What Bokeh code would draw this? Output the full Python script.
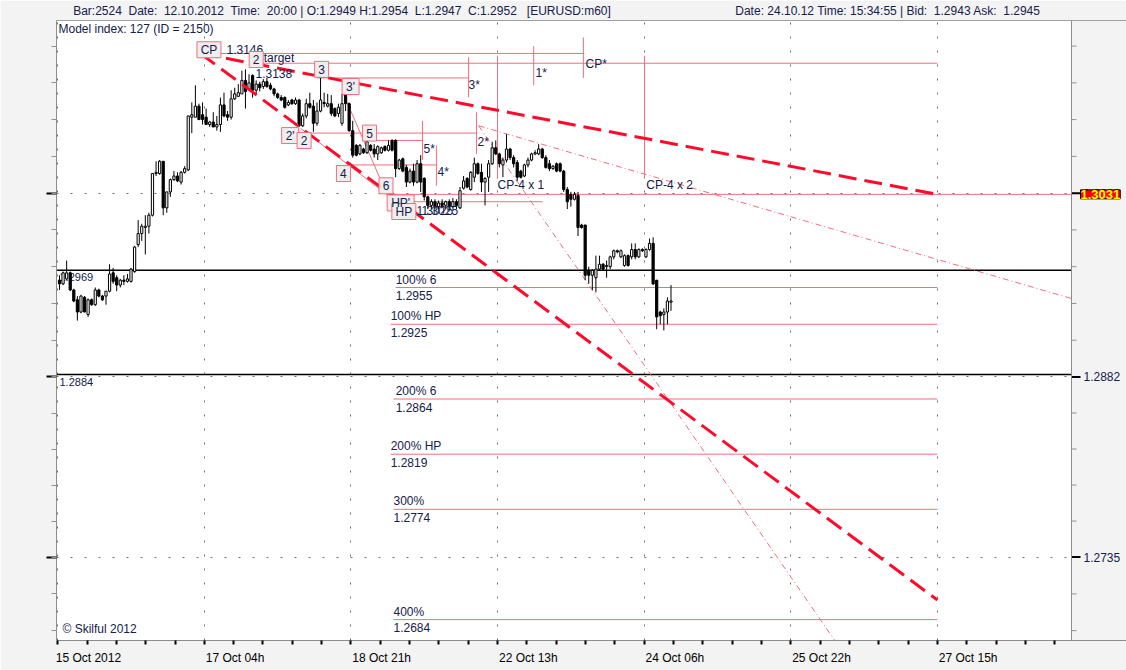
from bokeh.plotting import figure
from bokeh.models import (ColumnDataSource, Range1d, LinearAxis, FixedTicker,
                          Grid, Span, Label)
from bokeh.core.properties import value
from bokeh.embed import file_html
from bokeh.resources import INLINE

# ---------------- data: EURUSD H1 candles (one entry per hourly bar) ----------------
opens = [
    1.2961, 1.2958, 1.2962, 1.2967, 1.2953, 1.2945, 1.2935, 1.2947, 1.2933, 1.2945,
    1.2941, 1.2953, 1.2948, 1.2948, 1.2952, 1.2967, 1.2963, 1.2957, 1.2961, 1.2960,
    1.2960, 1.2968, 1.2990, 1.2999, 1.3004, 1.3005, 1.3014, 1.3048, 1.3048, 1.3058,
    1.3020, 1.3033, 1.3043, 1.3046, 1.3041, 1.3049, 1.3051, 1.3094, 1.3094, 1.3103,
    1.3096, 1.3094, 1.3088, 1.3090, 1.3086, 1.3088, 1.3104, 1.3096, 1.3094, 1.3109,
    1.3111, 1.3113, 1.3124, 1.3117, 1.3128, 1.3116, 1.3121,
    1.3119, 1.3123, 1.3120, 1.3117, 1.3113, 1.3110, 1.3110, 1.3104, 1.3108, 1.3105,
    1.3108, 1.3087, 1.3095, 1.3105, 1.3103, 1.3089, 1.3099, 1.3106, 1.3103, 1.3105,
    1.3101, 1.3097, 1.3089, 1.3112, 1.3105, 1.3083, 1.3071, 1.3064, 1.3068, 1.3065,
    1.3071, 1.3068, 1.3064, 1.3065, 1.3070, 1.3067, 1.3075, 1.3075, 1.3052, 1.3060,
    1.3053, 1.3041, 1.3050, 1.3041, 1.3056, 1.3044, 1.3029, 1.3022, 1.3025, 1.3021,
    1.3024, 1.3022, 1.3025, 1.3021, 1.3025, 1.3020, 1.3036, 1.3044,
    1.3035, 1.3045, 1.3056, 1.3049, 1.3041, 1.3045, 1.3056, 1.3069, 1.3064, 1.3055,
    1.3059, 1.3068, 1.3061, 1.3057, 1.3050, 1.3046, 1.3055, 1.3059, 1.3064, 1.3064,
    1.3068, 1.3061, 1.3056, 1.3052, 1.3056, 1.3056, 1.3050, 1.3035, 1.3031, 1.3027,
    1.3030, 1.3006, 1.3006, 1.2969, 1.2965, 1.2963, 1.2970, 1.2974, 1.2972, 1.2972,
    1.2980, 1.2985, 1.2980, 1.2973, 1.2981, 1.2980, 1.2986, 1.2980, 1.2986, 1.2980,
    1.2986, 1.2991, 1.2961, 1.2935, 1.2933, 1.2935, 1.2943,
]
highs = [
    1.2965, 1.2968, 1.2977, 1.2968, 1.2954, 1.2948, 1.2949, 1.2948, 1.2946, 1.2946,
    1.2955, 1.2954, 1.2949, 1.2952, 1.2974, 1.2971, 1.2965, 1.2962, 1.2965, 1.2966,
    1.2971, 1.2989, 1.3010, 1.3007, 1.3014, 1.3016, 1.3048, 1.3058, 1.3059, 1.3058,
    1.3033, 1.3044, 1.3050, 1.3049, 1.3050, 1.3054, 1.3095, 1.3106, 1.3120, 1.3105,
    1.3106, 1.3101, 1.3091, 1.3098, 1.3095, 1.3110, 1.3114, 1.3099, 1.3116, 1.3118,
    1.3121, 1.3132, 1.3133, 1.3129, 1.3129, 1.3124, 1.3123,
    1.3125, 1.3126, 1.3122, 1.3118, 1.3114, 1.3112, 1.3111, 1.3108, 1.3109, 1.3110,
    1.3109, 1.3097, 1.3109, 1.3114, 1.3108, 1.3106, 1.3127, 1.3114, 1.3113, 1.3112,
    1.3102, 1.3105, 1.3113, 1.3113, 1.3106, 1.3091, 1.3072, 1.3072, 1.3069, 1.3075,
    1.3072, 1.3072, 1.3071, 1.3070, 1.3071, 1.3075, 1.3076, 1.3076, 1.3060, 1.3061,
    1.3055, 1.3052, 1.3056, 1.3059, 1.3063, 1.3045, 1.3030, 1.3027, 1.3027, 1.3026,
    1.3027, 1.3026, 1.3027, 1.3028, 1.3027, 1.3037, 1.3046, 1.3045,
    1.3050, 1.3061, 1.3057, 1.3056, 1.3045, 1.3059, 1.3074, 1.3075, 1.3065, 1.3061,
    1.3080, 1.3069, 1.3063, 1.3059, 1.3051, 1.3056, 1.3061, 1.3065, 1.3067, 1.3072,
    1.3069, 1.3063, 1.3059, 1.3055, 1.3057, 1.3057, 1.3051, 1.3037, 1.3033, 1.3033,
    1.3033, 1.3007, 1.3006, 1.2972, 1.2970, 1.2981, 1.2981, 1.2975, 1.2977, 1.2981,
    1.2986, 1.2986, 1.2986, 1.2982, 1.2982, 1.2991, 1.2991, 1.2987, 1.2987, 1.2987,
    1.2995, 1.2996, 1.2961, 1.2936, 1.2938, 1.2947, 1.2957,
]
lows = [
    1.2953, 1.2957, 1.2961, 1.2952, 1.2943, 1.2928, 1.2934, 1.2935, 1.2931, 1.2940,
    1.2940, 1.2947, 1.2944, 1.2941, 1.2951, 1.2958, 1.2952, 1.2955, 1.2957, 1.2959,
    1.2959, 1.2967, 1.2988, 1.2993, 1.2982, 1.2999, 1.3013, 1.3046, 1.3047, 1.3014,
    1.3016, 1.3029, 1.3042, 1.3041, 1.3039, 1.3048, 1.3050, 1.3081, 1.3094, 1.3092,
    1.3088, 1.3088, 1.3086, 1.3086, 1.3083, 1.3082, 1.3094, 1.3091, 1.3092, 1.3108,
    1.3111, 1.3113, 1.3101, 1.3116, 1.3110, 1.3112, 1.3115,
    1.3117, 1.3118, 1.3116, 1.3111, 1.3109, 1.3107, 1.3101, 1.3103, 1.3104, 1.3104,
    1.3086, 1.3086, 1.3093, 1.3101, 1.3082, 1.3087, 1.3098, 1.3102, 1.3102, 1.3095,
    1.3094, 1.3094, 1.3087, 1.3099, 1.3082, 1.3061, 1.3062, 1.3063, 1.3064, 1.3064,
    1.3066, 1.3061, 1.3059, 1.3064, 1.3066, 1.3066, 1.3066, 1.3045, 1.3051, 1.3049,
    1.3037, 1.3040, 1.3038, 1.3040, 1.3033, 1.3026, 1.3019, 1.3019, 1.3019, 1.3019,
    1.3020, 1.3019, 1.3018, 1.3020, 1.3019, 1.3019, 1.3035, 1.3036,
    1.3034, 1.3041, 1.3047, 1.3033, 1.3022, 1.3033, 1.3055, 1.3063, 1.3053, 1.3045,
    1.3057, 1.3059, 1.3053, 1.3042, 1.3044, 1.3045, 1.3053, 1.3058, 1.3063, 1.3063,
    1.3060, 1.3052, 1.3050, 1.3051, 1.3049, 1.3049, 1.3033, 1.3019, 1.3021, 1.3026,
    1.2997, 1.3003, 1.2961, 1.2958, 1.2953, 1.2951, 1.2969, 1.2969, 1.2963, 1.2970,
    1.2978, 1.2983, 1.2979, 1.2972, 1.2972, 1.2978, 1.2978, 1.2979, 1.2984, 1.2979,
    1.2985, 1.2957, 1.2921, 1.2925, 1.2920, 1.2925, 1.2936,
]
closes = [
    1.2958, 1.2967, 1.2967, 1.2953, 1.2944, 1.2935, 1.2948, 1.2935, 1.2945, 1.2941,
    1.2953, 1.2948, 1.2945, 1.2952, 1.2966, 1.2960, 1.2957, 1.2961, 1.2960, 1.2962,
    1.2970, 1.2988, 1.2999, 1.3005, 1.3005, 1.3014, 1.3048, 1.3049, 1.3058, 1.3020,
    1.3033, 1.3043, 1.3046, 1.3042, 1.3049, 1.3052, 1.3095, 1.3096, 1.3103, 1.3092,
    1.3092, 1.3088, 1.3090, 1.3086, 1.3088, 1.3104, 1.3095, 1.3094, 1.3109, 1.3113,
    1.3114, 1.3124, 1.3115, 1.3122, 1.3116, 1.3121, 1.3118,
    1.3123, 1.3119, 1.3117, 1.3113, 1.3110, 1.3108, 1.3102, 1.3106, 1.3105, 1.3108,
    1.3087, 1.3095, 1.3105, 1.3102, 1.3089, 1.3099, 1.3108, 1.3105, 1.3105, 1.3097,
    1.3095, 1.3102, 1.3105, 1.3105, 1.3083, 1.3063, 1.3063, 1.3071, 1.3065, 1.3074,
    1.3067, 1.3064, 1.3070, 1.3069, 1.3067, 1.3071, 1.3067, 1.3052, 1.3059, 1.3050,
    1.3041, 1.3050, 1.3041, 1.3056, 1.3041, 1.3029, 1.3022, 1.3025, 1.3021, 1.3024,
    1.3022, 1.3025, 1.3021, 1.3025, 1.3022, 1.3034, 1.3042, 1.3037,
    1.3049, 1.3056, 1.3048, 1.3041, 1.3044, 1.3056, 1.3069, 1.3064, 1.3056, 1.3059,
    1.3068, 1.3061, 1.3056, 1.3045, 1.3045, 1.3055, 1.3059, 1.3064, 1.3065, 1.3068,
    1.3061, 1.3053, 1.3052, 1.3054, 1.3050, 1.3050, 1.3035, 1.3025, 1.3027, 1.3031,
    1.3004, 1.3004, 1.2965, 1.2965, 1.2969, 1.2970, 1.2974, 1.2970, 1.2973, 1.2980,
    1.2985, 1.2984, 1.2985, 1.2981, 1.2973, 1.2986, 1.2980, 1.2986, 1.2985, 1.2986,
    1.2991, 1.2958, 1.2931, 1.2932, 1.2935, 1.2944, 1.2944,
]

# time axis labels (one every 41 hourly bars) and price axis labels
x_tick_labels = ["15 Oct 2012", "17 Oct 04h", "18 Oct 21h", "22 Oct 13h",
                 "24 Oct 06h", "25 Oct 22h", "27 Oct 15h"]
bars_per_label = 41
y_tick_values = [1.3032, 1.2882, 1.2735]

# model points (bar index, price)
cp_point = (39.4, 1.3146)
trend_ends_bar = [245.5, 245.5]
trend_ends_price = [1.3031, 1.2700]
p2star_point = (117.2, 1.3087)
fan_ends_bar = [283.0, 245.5]
fan_ends_price = [1.2946, 1.2546]
wave_from_bar = [79.4, 67.4]
wave_from_price = [1.3113, 1.3085]
wave_to_bar = [92.0, 98.2]
wave_to_price = [1.3028, 1.3016]

# horizontal model levels: price, first bar, last bar
level_price = [1.3146, 1.3138, 1.3126, 1.3081, 1.3075, 1.3055, 1.3031, 1.3025,
               1.2955, 1.2925, 1.2864, 1.2819, 1.2774, 1.2684]
level_from = [40.0, 55.4, 72.1, 64.6, 88.6, 81.4, 92.3, 92.3,
              94.0, 92.6, 93.4, 92.6, 93.4, 93.4]
level_to = [146.5, 245.5, 114.4, 116.6, 101.5, 105.4, 283.0, 135.1,
            245.5, 245.5, 245.5, 245.5, 245.5, 245.5]

# projection targets
target_names = ["100% 6", "100% HP", "200% 6", "200% HP", "300%", "400%"]
target_price = [1.2955, 1.2925, 1.2864, 1.2819, 1.2774, 1.2684]
target_bar = [94.0, 92.6, 94.0, 92.6, 93.4, 93.4]

# vertical time markers: bar, top price, bottom price
marker_bar = [114.4, 132.6, 146.5, 122.5, 163.6, 101.5, 105.4, 116.6]
marker_top = [1.3143, 1.3152, 1.3159, 1.3144, 1.3144, 1.3091, 1.3071, 1.3098]
marker_bottom = [1.3110, 1.3120, 1.3126, 1.3044, 1.3044, 1.3059, 1.3038, 1.3064]

# wave labels in boxes
box_text = ["CP", "2", "3", "3'", "2'", "2", "5", "4", "6", "HP'", "HP"]
box_bar = [41.8, 55.0, 73.3, 81.4, 64.5, 68.4, 86.7, 79.4, 91.3, 95.4, 96.3]
box_price = [1.3149, 1.3141, 1.3133, 1.3119, 1.3079, 1.3075, 1.3081, 1.3048,
             1.3038, 1.3024, 1.3017]

# free text labels
note_text = ["1.3146", "2 target", "1.3138", "1.3025", "1.3025", "3*", "1*", "CP*",
             "5*", "4*", "2*", "CP-4 x 1", "CP-4 x 2"]
note_bar = [46.7, 54.3, 54.8, 99.8, 101.2, 114.4, 133.1, 147.1,
            101.8, 105.7, 116.9, 122.5, 164.1]
note_price = [1.3149, 1.3142, 1.3130, 1.3018, 1.3018, 1.3120, 1.3130, 1.3137,
              1.3068, 1.3049, 1.3074, 1.3039, 1.3039]

# support / resistance lines
black_levels = [1.2969, 1.2884]
last_price = 1.3031

NB = "\u00a0"
header_texts = [f"Bar:2524 {NB}Date: {NB}12.10.2012 {NB}Time: {NB}20:00 | O:1.2949 H:1.2954 {NB}"
                f"L:1.2947 {NB}C:1.2952 {NB}{NB}[EURUSD:m60]",
                f"Date: 24.10.12 Time: 15:34:55 | Bid: {NB}1.2943 Ask: {NB}1.2945"]
header_centre_bar = [79.0, 231.7]

# ---------------- styling ----------------
FONT = "Liberation Sans"
PINK = "#f26d7d"
RED = "#ff0a2a"
INK = "#15204a"
GREYBG = "#f3f3f3"
AXIS = "#8c8c8c"
W, H = 1126, 670
BL, BR, BT, BB = 56, 0, 20, 30
PX_PER_BAR = 3.576
axis_end = 283.0          # bar position of the price-scale edge

p = figure(width=W, height=H, x_range=Range1d(-0.839, 298.38),
           y_range=Range1d(1.266696, 1.317288),
           x_axis_type=None, y_axis_type=None, toolbar_location=None,
           output_backend="svg", min_border_left=BL, min_border_right=BR,
           min_border_top=BT, min_border_bottom=BB,
           background_fill_color="white", border_fill_color=GREYBG,
           outline_line_color=None)

# ---- tick positions ----
y_minor = []
for a, b in zip(y_tick_values[:-1], y_tick_values[1:]):
    y_minor += [a + (b - a) * k / 5 for k in range(5)]
y_minor += [y_tick_values[-1]]
step = (y_tick_values[1] - y_tick_values[0]) / 5
y_minor += [y_tick_values[0] - step * k for k in range(1, 5)]
y_minor += [y_tick_values[-1] + step * k for k in range(1, 3)]

# ---- left axis (ticks only) ----
left_axis = LinearAxis(ticker=FixedTicker(ticks=y_tick_values, minor_ticks=y_minor),
                       major_label_overrides={v: "" for v in y_tick_values},
                       major_label_text_font_size="0px",
                       axis_line_color=AXIS, major_tick_line_color="black",
                       major_tick_line_width=2, major_tick_out=10, major_tick_in=0,
                       minor_tick_line_color="#909090", minor_tick_out=5, minor_tick_in=0)
p.add_layout(left_axis, "left")

# ---- bottom time axis ----
x_major = [-0.5 + bars_per_label * i for i in range(len(x_tick_labels))]
x_minor = [-0.5 + bars_per_label / 5 * k for k in range(35)]
label_centres = [m + 8.6 for m in x_major]
bottom_axis = LinearAxis(ticker=FixedTicker(ticks=label_centres, minor_ticks=x_minor),
                         major_label_overrides=dict(zip(label_centres, x_tick_labels)),
                         major_tick_line_color=None, major_tick_out=0, major_tick_in=0,
                         minor_tick_line_color="black", minor_tick_line_width=2,
                         minor_tick_out=4, minor_tick_in=0,
                         axis_line_color=AXIS, major_label_standoff=6,
                         major_label_text_font=FONT, major_label_text_font_size="12px",
                         major_label_text_color="black")
p.add_layout(bottom_axis, "below")

# ---- header (status bar) as a top axis ----
top_axis = LinearAxis(ticker=FixedTicker(ticks=header_centre_bar),
                      major_label_overrides=dict(zip(header_centre_bar, header_texts)),
                      major_tick_line_color=None, major_tick_out=0, major_tick_in=0,
                      minor_tick_line_color=None, axis_line_color="#a0a0a0",
                      major_label_standoff=3, major_label_text_font=FONT,
                      major_label_text_font_size="12px", major_label_text_color=INK)
p.add_layout(top_axis, "above")

p.add_layout(Grid(dimension=0, ticker=FixedTicker(ticks=x_major),
                  grid_line_color="#707070", grid_line_dash="2 12"))
p.add_layout(Grid(dimension=1, ticker=FixedTicker(ticks=y_tick_values),
                  grid_line_color="#707070", grid_line_dash="2 12"))

# ---- price scale strip on the right ----
p.quad(left=axis_end, right=axis_end + 30, bottom=1.2, top=1.4,
       fill_color=GREYBG, line_color=None)
p.segment(x0=[axis_end] * len(y_minor), y0=y_minor,
          x1=[axis_end + 5 / PX_PER_BAR] * len(y_minor), y1=y_minor,
          line_color="#909090", line_width=1)
p.segment(x0=[axis_end] * len(y_tick_values), y0=y_tick_values,
          x1=[axis_end + 9 / PX_PER_BAR] * len(y_tick_values), y1=y_tick_values,
          line_color="black", line_width=2)
p.text(x=[axis_end + 12 / PX_PER_BAR] * len(y_tick_values), y=y_tick_values,
       text=[f"{v:.4f}" for v in y_tick_values], text_font=value(FONT),
       text_font_size="12px", text_color=INK, text_baseline="middle", text_align="left")
p.add_layout(Span(location=axis_end, dimension="height", line_color=AXIS, line_width=1))

# ---- black levels ----
p.segment(x0=[p.x_range.start] * 2, y0=black_levels, x1=[axis_end] * 2, y1=black_levels,
          line_color="black", line_width=1.5)
p.text(x=[0.0, 0.0], y=black_levels, text=[f"{v:.4f}" for v in black_levels],
       text_font=value(FONT), text_font_size="11px", text_color=INK,
       text_baseline="middle", text_align="left", y_offset=7)

# ---- model lines ----
p.segment(x0=level_from, y0=level_price, x1=level_to, y1=level_price,
          line_color=PINK, line_width=1)
p.segment(x0=marker_bar, y0=marker_top, x1=marker_bar, y1=marker_bottom,
          line_color=PINK, line_width=1)
p.segment(x0=wave_from_bar, y0=wave_from_price, x1=wave_to_bar, y1=wave_to_price,
          line_color=PINK, line_width=1)
p.segment(x0=[p2star_point[0]] * 2, y0=[p2star_point[1]] * 2, x1=fan_ends_bar,
          y1=fan_ends_price, line_color=PINK, line_width=1, line_dash="6 3 1 3")

# ---- candles ----
bars = list(range(len(opens)))
src = ColumnDataSource(dict(
    x=bars, high=highs, low=lows,
    top=[max(o, c) for o, c in zip(opens, closes)],
    bottom=[min(o, c) for o, c in zip(opens, closes)],
    fill=["white" if c >= o else "black" for o, c in zip(opens, closes)]))
p.segment(x0="x", y0="high", x1="x", y1="low", source=src, line_color="black", line_width=1)
p.vbar(x="x", width=0.62, top="top", bottom="bottom", fill_color="fill",
       line_color="black", line_width=1, source=src)

# ---- thick trend lines from CP ----
p.segment(x0=[cp_point[0]] * 2, y0=[cp_point[1]] * 2, x1=trend_ends_bar,
          y1=trend_ends_price, line_color=RED, line_width=3, line_dash="18 8")

# ---- texts ----
p.text(x=note_bar, y=note_price, text=note_text, text_font=value(FONT),
       text_font_size="12px", text_color=INK, text_baseline="middle", text_align="left")
p.text(x=target_bar, y=target_price, text=target_names, text_font=value(FONT),
       text_font_size="12px", text_color=INK, text_baseline="middle", text_align="left",
       y_offset=-8)
p.text(x=target_bar, y=target_price, text=[f"{v:.4f}" for v in target_price],
       text_font=value(FONT), text_font_size="12px", text_color=INK,
       text_baseline="middle", text_align="left", y_offset=8)

# boxed wave labels: box width follows the label's characters
def _char_w(ch):
    return 3 if ch == "'" else (6 if ch.isdigit() else 8)
box_w = [8 + sum(_char_w(ch) for ch in t) for t in box_text]
p.rect(x=box_bar, y=box_price, width=box_w, height=[16] * len(box_text),
       width_units="screen", height_units="screen",
       fill_color="#eeeeee", line_color=PINK, line_width=1)
p.text(x=box_bar, y=box_price, text=box_text, text_font=value(FONT),
       text_font_size="12px", text_color=INK, text_baseline="middle", text_align="center")

# ---- in-chart captions ----
p.add_layout(Label(x=2, y=H - BT - BB - 8, x_units="screen", y_units="screen",
                   text="Model index: 127  (ID = 2150)", text_font=FONT,
                   text_font_size="12px", text_color=INK, text_baseline="middle"))
p.add_layout(Label(x=6, y=12, x_units="screen", y_units="screen", text="© Skilful 2012",
                   text_font=FONT, text_font_size="12px", text_color=INK,
                   text_baseline="middle"))
p.add_layout(Label(x=axis_end + 9 / PX_PER_BAR, y=last_price, text=f"{last_price:.4f}",
                   text_font=FONT, text_font_size="13px", text_font_style="bold",
                   text_color="#ffff00", background_fill_color="#ff0000",
                   border_line_color="black", border_line_width=1,
                   text_baseline="middle", text_align="left"))

open("out.html", "w").write(file_html(p, INLINE))
